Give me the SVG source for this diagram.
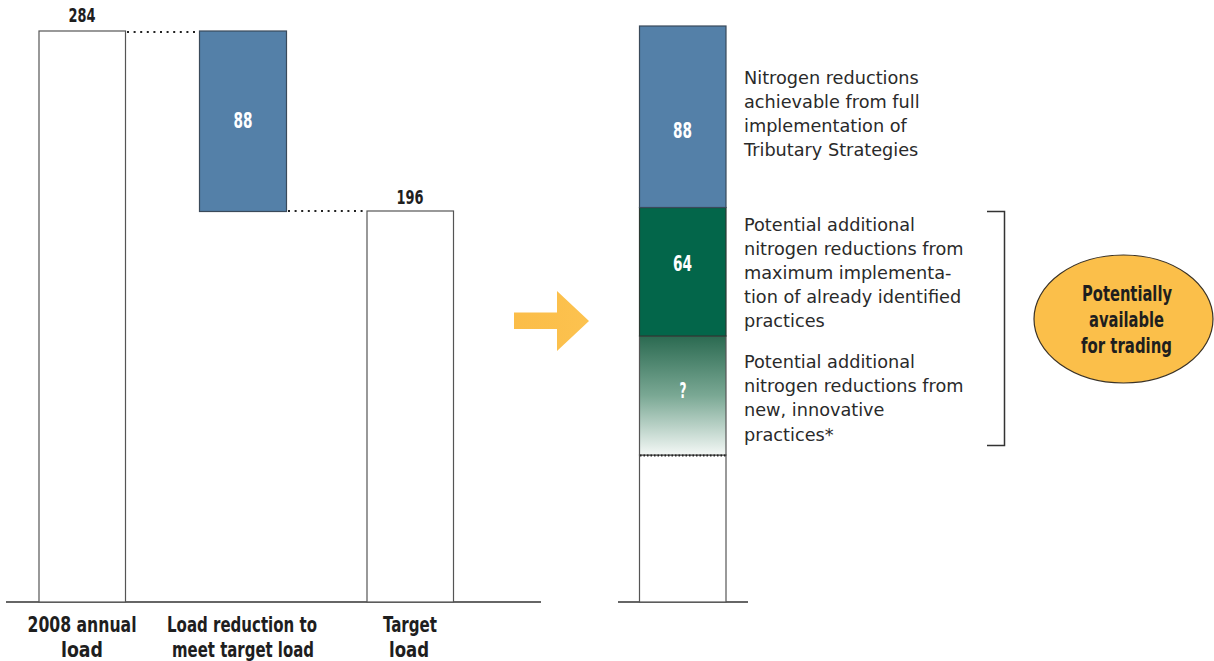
<svg xmlns="http://www.w3.org/2000/svg" width="1214" height="661" viewBox="0 0 1214 661">
<defs>
<linearGradient id="gfade" x1="0" y1="0" x2="0" y2="1">
<stop offset="0" stop-color="#2b6a51"/>
<stop offset="0.5" stop-color="#7aa894"/>
<stop offset="1" stop-color="#f4f8f6"/>
</linearGradient>
<linearGradient id="garrow" x1="0" y1="0" x2="1" y2="0">
<stop offset="0" stop-color="#fbbd48"/>
<stop offset="1" stop-color="#fcc24f"/>
</linearGradient>
</defs>
<style>
.bar{fill:#ffffff;stroke:#555555;stroke-width:1.2}
.blue{fill:#5480a8;stroke:#3a4a5a;stroke-width:1.2}
.green{fill:#03664a;stroke:#2a3a33;stroke-width:1.2}
.cond{font-family:"Liberation Sans Narrow","DejaVu Sans Condensed","Liberation Sans",sans-serif;font-weight:bold;text-anchor:middle}
.dark{fill:#1e1e1e}
.white{fill:#ffffff}
.body{font-family:"DejaVu Sans","Liberation Sans",sans-serif;font-size:17.7px;fill:#2a2a2a}
.dot{stroke:#222222;stroke-width:2;stroke-dasharray:2 4.6;fill:none}
.axis{stroke:#333333;stroke-width:1.5;fill:none}
</style>
<rect width="1214" height="661" fill="#ffffff"/>

<g id="connectors">
<line class="dot" x1="127" y1="32" x2="200" y2="32"/>
<line class="dot" x1="288" y1="211" x2="367" y2="211"/>
<polyline fill="none" stroke="#333333" stroke-width="1.5" points="987,211.5 1004.5,211.5 1004.5,445.5 987,445.5"/>
</g>

<g id="axis-left"><line class="axis" x1="6" y1="602" x2="541" y2="602"/></g>
<g id="axis-right"><line class="axis" x1="618" y1="602" x2="748" y2="602"/></g>

<g id="bar-2008">
<rect class="bar" x="39" y="31" width="86.5" height="571"/>
<text class="cond dark" x="82" y="21.5" font-size="19.5" textLength="27" lengthAdjust="spacingAndGlyphs">284</text>
<text class="cond dark" x="82" y="631.5" font-size="21" textLength="109" lengthAdjust="spacingAndGlyphs">2008 annual</text>
<text class="cond dark" x="82" y="657" font-size="21" textLength="42" lengthAdjust="spacingAndGlyphs">load</text>
</g>

<g id="bar-reduction">
<rect class="blue" x="199.5" y="31" width="87" height="180.5"/>
<text class="cond white" x="243" y="128" font-size="20.5" textLength="19" lengthAdjust="spacingAndGlyphs">88</text>
<text class="cond dark" x="242" y="631.5" font-size="21" textLength="150" lengthAdjust="spacingAndGlyphs">Load reduction to</text>
<text class="cond dark" x="243" y="657" font-size="21" textLength="142" lengthAdjust="spacingAndGlyphs">meet target load</text>
</g>

<g id="bar-target">
<rect class="bar" x="367" y="211" width="86.5" height="391"/>
<text class="cond dark" x="410" y="204" font-size="19.5" textLength="27" lengthAdjust="spacingAndGlyphs">196</text>
<text class="cond dark" x="410" y="631.5" font-size="21" textLength="54" lengthAdjust="spacingAndGlyphs">Target</text>
<text class="cond dark" x="409" y="657" font-size="21" textLength="40" lengthAdjust="spacingAndGlyphs">load</text>
</g>

<g id="arrow">
<polygon points="514,312.5 557,312.5 557,291 589,321 557,351 557,329 514,329" fill="url(#garrow)"/>
</g>

<g id="stack">
<rect class="bar" x="639.5" y="455" width="86.5" height="147"/>
<rect x="639.5" y="336" width="86.5" height="119" fill="url(#gfade)" stroke="#555555" stroke-width="1.2"/>
<line x1="640" y1="455.5" x2="726" y2="455.5" stroke="#222222" stroke-width="2" stroke-dasharray="1.5 2"/>
<rect class="green" x="639.5" y="207.5" width="86.5" height="128.5"/>
<rect class="blue" x="639.5" y="26" width="86.5" height="181.5"/>
<text class="cond white" x="682.5" y="138" font-size="20.5" textLength="19" lengthAdjust="spacingAndGlyphs">88</text>
<text class="cond white" x="682.5" y="271" font-size="20.5" textLength="19" lengthAdjust="spacingAndGlyphs">64</text>
<text class="cond white" x="683" y="398" font-size="20.5" textLength="7" lengthAdjust="spacingAndGlyphs">?</text>
</g>

<g id="label-tributary">
<text class="body" x="744" y="84">Nitrogen reductions</text>
<text class="body" x="744" y="108">achievable from full</text>
<text class="body" x="744" y="132">implementation of</text>
<text class="body" x="744" y="156">Tributary Strategies</text>
</g>

<g id="label-identified">
<text class="body" x="744" y="231">Potential additional</text>
<text class="body" x="744" y="255">nitrogen reductions from</text>
<text class="body" x="744" y="279">maximum implementa-</text>
<text class="body" x="744" y="303">tion of already identified</text>
<text class="body" x="744" y="327">practices</text>
</g>

<g id="label-innovative">
<text class="body" x="744" y="368">Potential additional</text>
<text class="body" x="744" y="392">nitrogen reductions from</text>
<text class="body" x="744" y="416">new, innovative</text>
<text class="body" x="744" y="441">practices*</text>
</g>

<g id="trading">
<ellipse cx="1123.5" cy="319" rx="89.5" ry="64" fill="#fbbf4a" stroke="#3a3226" stroke-width="1.2"/>
<text class="cond dark" x="1127" y="300.5" font-size="21.5" textLength="90" lengthAdjust="spacingAndGlyphs">Potentially</text>
<text class="cond dark" x="1126.5" y="326.5" font-size="21.5" textLength="75" lengthAdjust="spacingAndGlyphs">available</text>
<text class="cond dark" x="1126.5" y="353" font-size="21.5" textLength="91" lengthAdjust="spacingAndGlyphs">for trading</text>
</g>
</svg>
